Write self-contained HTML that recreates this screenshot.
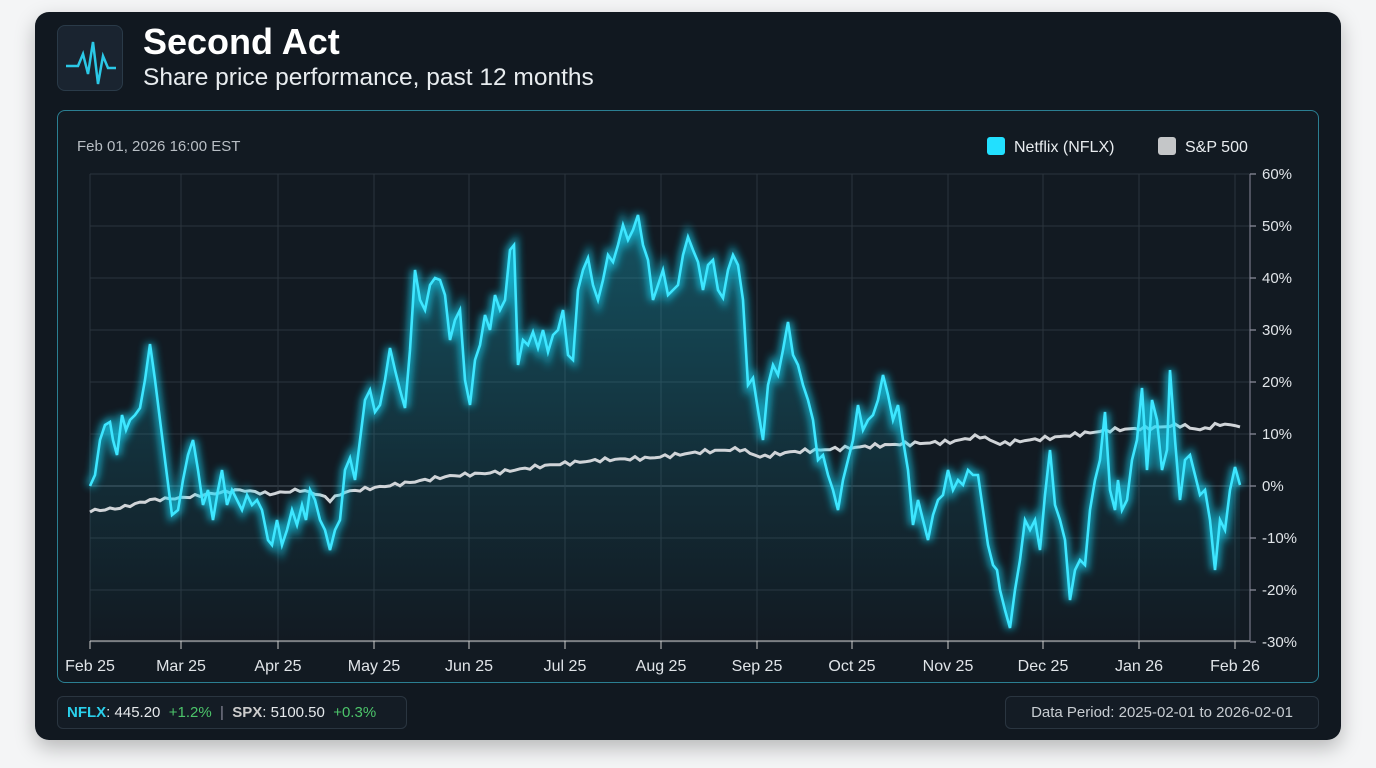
<!DOCTYPE html>
<html><head><meta charset="utf-8"><style>
html,body{margin:0;padding:0;background:#f4f5f6;width:1376px;height:768px;overflow:hidden;font-family:"Liberation Sans",sans-serif}
.card{position:absolute;left:35px;top:12px;width:1306px;height:728px;border-radius:14px;background:#111820;box-shadow:0 8px 20px rgba(0,0,0,.25)}
.icon{position:absolute;left:57px;top:25px;width:66px;height:66px;border-radius:8px;background:#1a2430;border:1px solid #2a3a48;box-sizing:border-box}
.title{position:absolute;left:143px;top:21px;color:#fff;font-weight:bold;font-size:36px}
.sub{position:absolute;left:143px;top:64px;color:#e8ecef;font-size:24.5px}
.panel{position:absolute;left:57px;top:110px;width:1262px;height:573px;border:1px solid #2b7f92;border-radius:8px;box-sizing:border-box;background:#121a22}
.foot{position:absolute;top:696px;height:33px;border:1px solid #2a3540;border-radius:6px;background:#141c25;box-sizing:border-box;font-size:15px;line-height:31px;color:#e6e9ec}
</style></head><body>
<div class="card"></div>
<div class="icon"><svg width="66" height="66"><polyline points="8,40 20,40 25,28 30,48 35,16 40,58 45,30 50,42 58,42" fill="none" stroke="#2bc8e6" stroke-width="2.5"/></svg></div>
<div class="title">Second Act</div>
<div class="sub">Share price performance, past 12 months</div>
<div class="panel"></div>
<svg id="c" width="1376" height="768" style="position:absolute;left:0;top:0"></svg>
<div class="foot" style="left:57px;width:350px;padding-left:9px"><b style="color:#2ad0ec">NFLX</b>: 445.20 &nbsp;<span style="color:#4cc46a">+1.2%</span> &nbsp;<span style="color:#889">|</span> &nbsp;<b style="color:#ccc">SPX</b>: 5100.50 &nbsp;<span style="color:#4cc46a">+0.3%</span></div>
<div class="foot" style="left:1005px;width:314px;text-align:center;color:#c8cdd2">Data Period: 2025-02-01 to 2026-02-01</div>
<script>
const n=[[90,486],[95,475],[100,440],[105,425],[110,422],[113,440],[117,455],[122,415],[126,430],[130,420],[135,415],[140,408],[145,380],[150,344],[155,380],[160,420],[165,460],[172,515],[178,510],[183,480],[188,455],[193,440],[198,470],[203,505],[208,490],[213,520],[218,490],[222,470],[227,505],[232,490],[237,500],[242,510],[247,495],[252,505],[257,500],[262,510],[268,540],[272,545],[277,520],[282,545],[287,530],[292,510],[297,525],[302,505],[306,520],[310,490],[315,500],[320,520],[325,530],[330,550],[335,530],[340,520],[345,470],[350,458],[355,480],[360,440],[365,400],[370,390],[375,412],[380,405],[385,380],[390,348],[395,370],[400,390],[405,408],[410,350],[415,270],[420,300],[425,310],[430,285],[435,278],[440,280],[445,295],[450,340],[455,320],[460,310],[465,380],[470,405],[475,360],[480,345],[485,315],[490,330],[495,295],[500,310],[505,300],[510,250],[514,245],[518,365],[523,340],[528,345],[533,332],[538,348],[543,330],[548,352],[553,335],[558,330],[563,310],[568,355],[573,360],[578,290],[583,270],[588,258],[593,285],[598,300],[603,280],[608,255],[613,262],[618,245],[623,225],[628,240],[633,230],[638,215],[643,245],[648,260],[653,300],[658,285],[663,270],[668,295],[673,290],[678,285],[683,255],[688,237],[693,250],[698,262],[703,290],[708,265],[713,260],[718,290],[723,298],[728,270],[733,255],[738,265],[743,300],[748,385],[753,378],[758,410],[763,440],[768,385],[773,365],[778,375],[783,350],[788,322],[793,355],[798,365],[803,385],[808,400],[813,420],[818,460],[823,455],[828,475],[833,490],[838,510],[843,480],[848,460],[853,440],[858,405],[863,430],[868,420],[873,415],[878,400],[883,375],[888,395],[893,420],[898,405],[903,440],[908,470],[913,525],[918,500],[923,520],[928,540],[933,515],[938,500],[943,495],[948,470],[953,490],[958,480],[963,485],[968,470],[973,475],[978,475],[983,510],[988,545],[993,565],[997,570],[1000,590],[1005,610],[1010,628],[1015,590],[1020,560],[1025,520],[1030,530],[1035,520],[1040,550],[1045,495],[1050,450],[1055,505],[1060,520],[1065,540],[1070,600],[1075,570],[1080,560],[1085,565],[1090,510],[1095,480],[1100,460],[1105,412],[1110,490],[1115,510],[1118,480],[1122,510],[1127,500],[1132,460],[1137,440],[1142,388],[1147,470],[1152,400],[1157,420],[1162,470],[1167,450],[1170,370],[1175,440],[1180,500],[1185,460],[1190,455],[1195,475],[1200,495],[1205,490],[1210,520],[1215,570],[1220,520],[1225,530],[1230,490],[1235,467],[1240,485]];
const sk=[[90,511],[120,508],[150,500],[180,498],[210,494],[240,490],[270,494],[300,490],[320,495],[330,500],[345,492],[400,484],[450,476],[500,472],[550,465],[600,460],[650,458],[700,452],[740,449],[760,457],[790,452],[820,450],[860,447],[900,444],[950,442],[980,436],[1000,444],[1020,441],[1050,438],[1080,434],[1110,430],[1150,428],[1180,425],[1200,430],[1220,424],[1240,426]];
let s=[];for(let x=90;x<=1240;x+=5){let i=0;while(sk[i+1]&&sk[i+1][0]<x)i++;let a=sk[i],b=sk[i+1]||a;let t=b[0]==a[0]?0:(x-a[0])/(b[0]-a[0]);s.push([x,a[1]+(b[1]-a[1])*t+Math.sin(x*1.7)*1.2+Math.sin(x*0.63)*1]);}
const P=a=>a.map(p=>p[0]+','+p[1].toFixed(1)).join(' ');
let h='<defs><linearGradient id="g" x1="0" y1="0" x2="0" y2="1"><stop offset="0" stop-color="#1bbcd8" stop-opacity="0.35"/><stop offset="0.6" stop-color="#1bbcd8" stop-opacity="0.12"/><stop offset="1" stop-color="#1bbcd8" stop-opacity="0.0"/></linearGradient><filter id="b" x="-5%" y="-20%" width="110%" height="140%"><feGaussianBlur stdDeviation="4"/></filter></defs>';
const xs=[90,181,278,374,469,565,661,757,852,948,1043,1139,1235],xl=['Feb 25','Mar 25','Apr 25','May 25','Jun 25','Jul 25','Aug 25','Sep 25','Oct 25','Nov 25','Dec 25','Jan 26','Feb 26'];
for(let i=0;i<10;i++){let y=174+i*52;h+=`<line x1="90" x2="1250" y1="${y}" y2="${y}" stroke="${i==6?'#4a5560':'#2b343d'}" stroke-width="1"/><line x1="1250" x2="1256" y1="${y}" y2="${y}" stroke="#aab"/><text x="1262" y="${y+5}" fill="#e0e4e8" font-size="15">${60-i*10}%</text>`;}
xs.forEach((x,i)=>{h+=`<line x1="${x}" x2="${x}" y1="174" y2="641" stroke="#2b343d"/><line x1="${x}" x2="${x}" y1="641" y2="649" stroke="#ccc"/><text x="${x}" y="671" fill="#e0e4e8" font-size="16" text-anchor="middle">${xl[i]}</text>`;});
h+=`<line x1="90" x2="1250" y1="641" y2="641" stroke="#ccc"/><line x1="1250" x2="1250" y1="174" y2="641" stroke="#889"/>`;
h+=`<polygon points="90,641 ${P(n)} 1240,641" fill="url(#g)"/>`;
h+=`<polyline points="${P(s)}" fill="none" stroke="#d0d4d8" stroke-width="3"/>`;
h+=`<polyline points="${P(n)}" fill="none" stroke="#18d8f8" stroke-width="8" opacity="0.7" filter="url(#b)"/><polyline points="${P(n)}" fill="none" stroke="#3ee6ff" stroke-width="2.6"/>`;
h+=`<text x="77" y="151" fill="#b8bec4" font-size="15">Feb 01, 2026 16:00 EST</text><rect x="987" y="137" width="18" height="18" rx="3" fill="#22e0ff"/><text x="1014" y="152" fill="#e8ecef" font-size="16">Netflix (NFLX)</text><rect x="1158" y="137" width="18" height="18" rx="3" fill="#c4c6c8"/><text x="1185" y="152" fill="#e8ecef" font-size="16">S&amp;P 500</text>`;
document.getElementById('c').innerHTML=h;
</script>
</body></html>
